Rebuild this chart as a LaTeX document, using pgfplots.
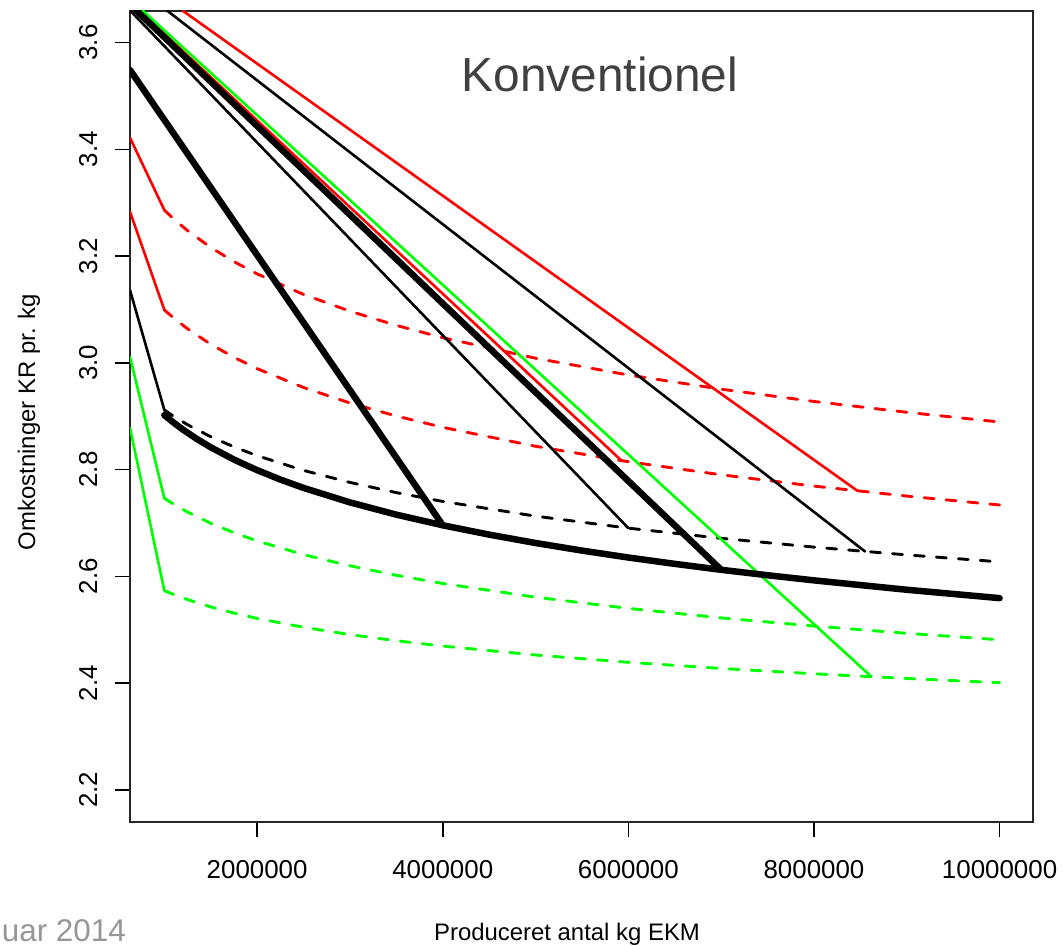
\documentclass[border=0pt]{standalone}
\usepackage{pgfplots}
\pgfplotsset{compat=1.18}
\usepackage{fontspec}
\setmainfont{Liberation Sans}
\definecolor{rred}{RGB}{255,0,0}
\definecolor{rgreen}{RGB}{0,255,0}
\definecolor{titlegray}{RGB}{64,64,64}
\definecolor{footgray}{RGB}{150,150,150}
\begin{document}
\begin{tikzpicture}
\path[use as bounding box] (0,0) rectangle (1063bp,946bp);
\begin{axis}[
  at={(130bp,124bp)}, anchor=south west,
  scale only axis, width=903bp, height=811.3bp,
  xmin=0.63, xmax=10.36, ymin=2.1396, ymax=3.6596,
  xtick={2,4,6,8,10},
  xticklabels={2000000,4000000,6000000,8000000,10000000},
  ytick={2.2,2.4,2.6,2.8,3.0,3.2,3.4,3.6},
  yticklabels={2.2,2.4,2.6,2.8,3.0,3.2,3.4,3.6},
  xtick pos=bottom, ytick pos=left,
  tick align=outside, major tick length=15bp,
  tick style={line width=1.5bp, black},
  axis line style={line width=2bp, black!85},
  xticklabel style={font=\fontsize{26}{31}\selectfont, anchor=base, yshift=-42bp},
  yticklabel style={font=\fontsize{26}{31}\selectfont, xshift=-18bp, rotate=90, anchor=base},
  clip=true,
  every axis plot/.append style={line cap=round, line join=round},
  thin/.style={line width=2.6bp},
  thick/.style={line width=6.5bp},
  dsh/.style={line width=2.9bp, dash pattern=on 10bp off 12bp},
]
% left solid segments
\addplot[rred, thin] coordinates {(0.63,3.4216) (1,3.286)};
\addplot[rred, thin] coordinates {(0.63,3.283) (1,3.099)};
\addplot[black, thin] coordinates {(0.63,3.136) (1,2.9115)};
\addplot[rgreen, thin] coordinates {(0.63,3.011) (1,2.746)};
\addplot[rgreen, thin] coordinates {(0.63,2.878) (1,2.573)};
% dashed cost curves
\addplot[rred, dsh] coordinates {(1,3.286) (1.1,3.2696) (1.25,3.2475) (1.5,3.2161) (1.75,3.1895) (2,3.1665) (2.5,3.1280) (3,3.0966) (3.5,3.0700) (4,3.0470) (5,3.0085) (6,2.9771) (7,2.9505) (8,2.9275) (9,2.9072) (10,2.8890)};
\addplot[rred, dsh] coordinates {(1,3.099) (1.1,3.0839) (1.25,3.0636) (1.5,3.0346) (1.75,3.0102) (2,2.9890) (2.5,2.9536) (3,2.9246) (3.5,2.9002) (4,2.8790) (5,2.8435) (6,2.8146) (7,2.7901) (8,2.7689) (9,2.7502) (10,2.7335)};
\addplot[black, dsh] coordinates {(1,2.9115) (1.1,2.8997) (1.25,2.8839) (1.5,2.8614) (1.75,2.8424) (2,2.8259) (2.5,2.7983) (3,2.7758) (3.5,2.7567) (4,2.7402) (5,2.7126) (6,2.6901) (7,2.6711) (8,2.6546) (9,2.6400) (10,2.6270)};
\addplot[rgreen, dsh] coordinates {(1,2.746) (1.1,2.7350) (1.25,2.7203) (1.5,2.6993) (1.75,2.6816) (2,2.6662) (2.5,2.6405) (3,2.6196) (3.5,2.6018) (4,2.5865) (5,2.5608) (6,2.5398) (7,2.5220) (8,2.5067) (9,2.4931) (10,2.4810)};
\addplot[rgreen, dsh] coordinates {(1,2.573) (1.1,2.5659) (1.25,2.5563) (1.5,2.5426) (1.75,2.5311) (2,2.5211) (2.5,2.5044) (3,2.4907) (3.5,2.4792) (4,2.4692) (5,2.4525) (6,2.4388) (7,2.4273) (8,2.4173) (9,2.4085) (10,2.4006)};
% straight lines
\addplot[black, thin] coordinates {(0.625,3.661) (6,2.6901)};
\addplot[black, thin] coordinates {(1.031,3.6596) (8.55,2.6464)};
\addplot[rred, thin] coordinates {(1.198,3.6596) (8.47,2.7599)};
\addplot[rred, thin] coordinates {(0.732,3.6596) (5.93,2.8160)};
\addplot[rgreen, thin] coordinates {(0.768,3.6596) (8.62,2.4117)};
\addplot[black, thick] coordinates {(0.63,3.5485) (4,2.6955)};
\addplot[black, thick] coordinates {(0.701,3.6596) (7,2.6121)};
% thick average cost curve
\addplot[black, thick] coordinates {(1,2.902) (1.1,2.8878) (1.2,2.8748) (1.35,2.8573) (1.5,2.8416) (1.75,2.8186) (2,2.7988) (2.25,2.7812) (2.5,2.7655) (3,2.7384) (3.5,2.7154) (4,2.6955) (4.5,2.6780) (5,2.6623) (5.5,2.6481) (6,2.6351) (6.5,2.6232) (7,2.6121) (7.5,2.6019) (8,2.5923) (9,2.5747) (10,2.5590)};
\end{axis}
\node[anchor=base, text=titlegray, font=\fontsize{48}{56}\selectfont] at (600bp,854bp) {Konventionel};
\node[anchor=base, inner sep=0pt, font=\fontsize{24}{29}\selectfont] at (567bp,6bp) {Produceret antal kg EKM};
\node[anchor=base, rotate=90, inner sep=0pt, font=\fontsize{24}{29}\selectfont] at (35bp,524bp) {Omkostninger KR pr. kg};
\node[anchor=base east, inner sep=0pt, text=footgray, font=\fontsize{31.5}{36}\selectfont] at (126bp,5bp) {Januar 2014};
\end{tikzpicture}
\end{document}
